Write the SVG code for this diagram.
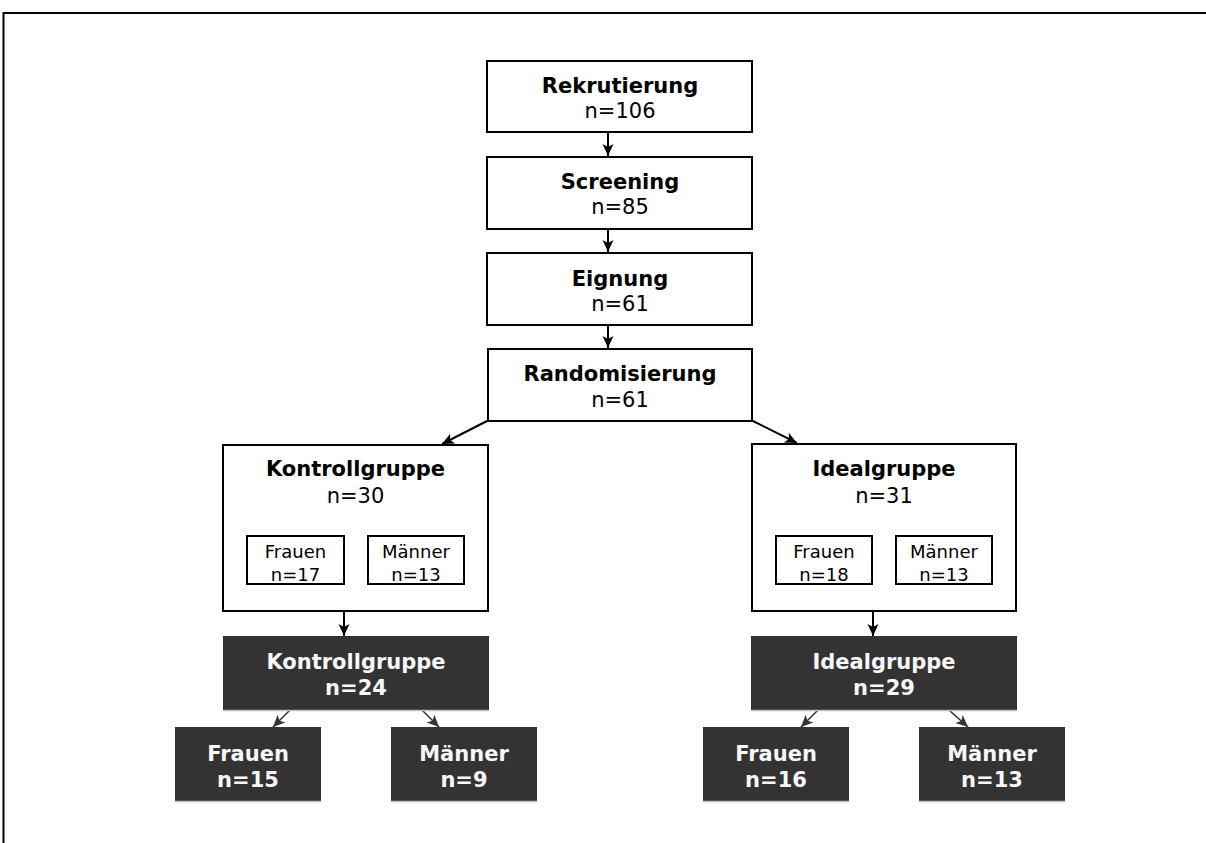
<svg xmlns="http://www.w3.org/2000/svg" width="1206" height="843" viewBox="0 0 1206 843">
<style>
  .box{fill:#fff;stroke:#000;stroke-width:2}
  .dark{fill:#333333;stroke:none}
  .shadow{stroke:#bdbdbd;stroke-width:1.5}
  text{font-family:"DejaVu Sans","Verdana",sans-serif;text-anchor:middle}
  .b{font-weight:bold;font-size:21px;fill:#000}
  .r{font-size:21px;fill:#000}
  .s{font-size:18px;fill:#000}
  .w{font-weight:bold;font-size:21px;fill:#f8f8f8}
  .c{stroke:#000;stroke-width:2;fill:none;marker-end:url(#ah)}
  .cd{stroke:#333;stroke-width:1.6;fill:none;marker-end:url(#ahd)}
</style>
<defs>
  <marker id="ah" markerUnits="userSpaceOnUse" markerWidth="14" markerHeight="14" viewBox="0 0 14 14" refX="13" refY="7" orient="auto">
    <path d="M1,1.5 L13,7 L1,12.5 L4,7 z" fill="#000"/>
  </marker>
  <marker id="ahd" markerUnits="userSpaceOnUse" markerWidth="14" markerHeight="14" viewBox="0 0 14 14" refX="13" refY="7" orient="auto">
    <path d="M1,1.5 L13,7 L1,12.5 L4,7 z" fill="#333"/>
  </marker>
</defs>
<rect width="1206" height="843" fill="#fff"/>
<path d="M3.5,843 V13 H1206" fill="none" stroke="#000" stroke-width="2"/>

<g id="connectors">
  <line class="c" x1="608" y1="133" x2="608" y2="156"/>
  <line class="c" x1="608" y1="230" x2="608" y2="252"/>
  <line class="c" x1="608" y1="326" x2="608" y2="348"/>
  <line class="c" x1="487" y1="421" x2="442" y2="444"/>
  <line class="c" x1="753" y1="421" x2="797" y2="443"/>
  <line class="c" x1="320" y1="512" x2="297" y2="535"/>
  <line class="c" x1="392" y1="512" x2="415" y2="535"/>
  <line class="c" x1="848" y1="512" x2="826" y2="535"/>
  <line class="c" x1="920" y1="512" x2="943" y2="535"/>
  <line class="c" x1="344" y1="612" x2="344" y2="636"/>
  <line class="c" x1="873" y1="612" x2="873" y2="636"/>
  <line class="cd" x1="290" y1="710" x2="273" y2="727"/>
  <line class="cd" x1="422" y1="710" x2="439" y2="727"/>
  <line class="cd" x1="818" y1="710" x2="801" y2="727"/>
  <line class="cd" x1="949" y1="710" x2="968" y2="727"/>
</g>

<g id="rekrutierung">
  <rect class="box" x="487" y="61" width="265" height="71"/>
  <text class="b" x="620" y="93">Rekrutierung</text>
  <text class="r" x="620" y="118">n=106</text>
</g>
<g id="screening">
  <rect class="box" x="487" y="157" width="265" height="72"/>
  <text class="b" x="620" y="189">Screening</text>
  <text class="r" x="620" y="214">n=85</text>
</g>
<g id="eignung">
  <rect class="box" x="487" y="253" width="265" height="72"/>
  <text class="b" x="620" y="286">Eignung</text>
  <text class="r" x="620" y="311">n=61</text>
</g>
<g id="randomisierung">
  <rect class="box" x="488" y="349" width="264" height="72"/>
  <text class="b" x="620" y="381">Randomisierung</text>
  <text class="r" x="620" y="407">n=61</text>
</g>

<g id="kontrollgruppe">
  <rect class="box" x="223" y="445" width="265" height="166"/>
  <text class="b" x="355.5" y="476">Kontrollgruppe</text>
  <text class="r" x="355.5" y="503">n=30</text>
</g>
<g id="kontroll-frauen">
  <rect class="box" x="247" y="536" width="97" height="48"/>
  <text class="s" x="295.5" y="558">Frauen</text>
  <text class="s" x="295.5" y="581">n=17</text>
</g>
<g id="kontroll-maenner">
  <rect class="box" x="368" y="536" width="96" height="48"/>
  <text class="s" x="416" y="558">Männer</text>
  <text class="s" x="416" y="581">n=13</text>
</g>

<g id="idealgruppe">
  <rect class="box" x="752" y="444" width="264" height="167"/>
  <text class="b" x="884" y="476">Idealgruppe</text>
  <text class="r" x="884" y="503">n=31</text>
</g>
<g id="ideal-frauen">
  <rect class="box" x="776" y="536" width="96" height="48"/>
  <text class="s" x="824" y="558">Frauen</text>
  <text class="s" x="824" y="581">n=18</text>
</g>
<g id="ideal-maenner">
  <rect class="box" x="896" y="536" width="96" height="48"/>
  <text class="s" x="944" y="558">Männer</text>
  <text class="s" x="944" y="581">n=13</text>
</g>

<g id="kontroll-final">
  <rect class="dark" x="223" y="636" width="266" height="74"/>
  <line class="shadow" x1="223" y1="710.5" x2="489" y2="710.5"/>
  <text class="w" x="356" y="669">Kontrollgruppe</text>
  <text class="w" x="356" y="695">n=24</text>
</g>
<g id="kontroll-final-frauen">
  <rect class="dark" x="175" y="727" width="146" height="74"/>
  <line class="shadow" x1="175" y1="801.5" x2="321" y2="801.5"/>
  <text class="w" x="248" y="761">Frauen</text>
  <text class="w" x="248" y="787">n=15</text>
</g>
<g id="kontroll-final-maenner">
  <rect class="dark" x="391" y="727" width="146" height="74"/>
  <line class="shadow" x1="391" y1="801.5" x2="537" y2="801.5"/>
  <text class="w" x="464" y="761">Männer</text>
  <text class="w" x="464" y="787">n=9</text>
</g>

<g id="ideal-final">
  <rect class="dark" x="751" y="636" width="266" height="74"/>
  <line class="shadow" x1="751" y1="710.5" x2="1017" y2="710.5"/>
  <text class="w" x="884" y="669">Idealgruppe</text>
  <text class="w" x="884" y="695">n=29</text>
</g>
<g id="ideal-final-frauen">
  <rect class="dark" x="703" y="727" width="146" height="74"/>
  <line class="shadow" x1="703" y1="801.5" x2="849" y2="801.5"/>
  <text class="w" x="776" y="761">Frauen</text>
  <text class="w" x="776" y="787">n=16</text>
</g>
<g id="ideal-final-maenner">
  <rect class="dark" x="919" y="727" width="146" height="74"/>
  <line class="shadow" x1="919" y1="801.5" x2="1065" y2="801.5"/>
  <text class="w" x="992" y="761">Männer</text>
  <text class="w" x="992" y="787">n=13</text>
</g>
</svg>
